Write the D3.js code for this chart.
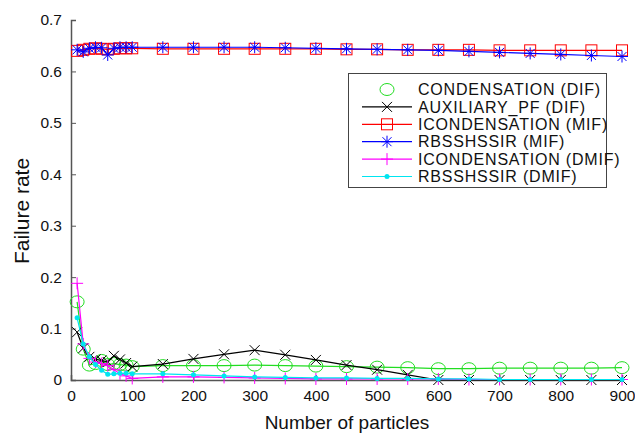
<!DOCTYPE html>
<html><head><meta charset="utf-8">
<script src="https://cdn.jsdelivr.net/npm/d3@7"></script>
<style>body{margin:0;background:#fff}svg{display:block;font-family:"Liberation Sans",Arial,sans-serif}</style>
</head><body><div id="chart"></div>
<script>
const particles = [10,20,30,40,50,60,70,80,90,100,150,200,250,300,350,400,450,500,550,600,650,700,750,800,850,900];
const condensationDIF = [0.152,0.060,0.029,0.032,0.038,0.030,0.032,0.030,0.029,0.026,0.028,0.028,0.028,0.029,0.028,0.027,0.026,0.025,0.024,0.022,0.022,0.023,0.023,0.023,0.023,0.024];
const auxiliaryDIF = [0.093,0.062,0.045,0.040,0.038,0.035,0.047,0.040,0.033,0.026,0.031,0.041,0.050,0.058,0.049,0.039,0.029,0.020,0.010,0,0,0,0,0,0,0];
const icondensationMIF = [0.640,0.642,0.644,0.645,0.644,0.643,0.644,0.645,0.645,0.645,0.644,0.644,0.644,0.644,0.644,0.644,0.643,0.643,0.642,0.642,0.642,0.641,0.641,0.641,0.641,0.641];
const rbsshssirMIF = [0.642,0.638,0.645,0.647,0.646,0.632,0.645,0.647,0.647,0.647,0.647,0.647,0.647,0.647,0.646,0.645,0.644,0.643,0.642,0.641,0.639,0.637,0.635,0.633,0.631,0.629];
const icondensationDMIF = [0.188,0.070,0.042,0.035,0.032,0.028,0.020,0.012,0.008,0.003,0.006,0.006,0.005,0.004,0.003,0.002,0.002,0.002,0.002,0.002,0.001,0.001,0.001,0.001,0.001,0.001];
const rbsshssirDMIF = [0.121,0.070,0.045,0.030,0.019,0.011,0.012,0.013,0.013,0.012,0.012,0.010,0.008,0.006,0.005,0.004,0.004,0.003,0.003,0.002,0.002,0.001,0.001,0.001,0.001,0.001];
const seriesNames = ["CONDENSATION (DIF)","AUXILIARY_PF (DIF)","ICONDENSATION (MIF)","RBSSHSSIR (MIF)","ICONDENSATION (DMIF)","RBSSHSSIR (DMIF)"];
const xTicks = [0,100,200,300,400,500,600,700,800,900];
const yTicks = [0,0.1,0.2,0.3,0.4,0.5,0.6,0.7];

const series = [
  {name: seriesNames[0], values: condensationDIF, color: "#22dd22", marker: "circle", legendLine: false},
  {name: seriesNames[1], values: auxiliaryDIF, color: "#000000", marker: "x", legendLine: true},
  {name: seriesNames[2], values: icondensationMIF, color: "#ff0000", marker: "square", legendLine: true},
  {name: seriesNames[3], values: rbsshssirMIF, color: "#0000ff", marker: "star", legendLine: true},
  {name: seriesNames[4], values: icondensationDMIF, color: "#ff00ff", marker: "plus", legendLine: true},
  {name: seriesNames[5], values: rbsshssirDMIF, color: "#00e5f0", marker: "dot", legendLine: true}
];

const W = 635, H = 434;
const svg = d3.select("#chart").append("svg").attr("width", W).attr("height", H);
const x = d3.scaleLinear().domain([0, 900]).range([71, 622]);
const y = d3.scaleLinear().domain([0, 0.7]).range([380, 20]);

function drawMarker(g, type, cx, cy, color) {
  if (type === "circle") {
    g.append("ellipse").attr("cx", cx).attr("cy", cy).attr("rx", 7).attr("ry", 6)
      .attr("fill", "none").attr("stroke", color).attr("stroke-width", 1);
  } else if (type === "square") {
    g.append("rect").attr("x", cx - 5.5).attr("y", cy - 5.5).attr("width", 11).attr("height", 11)
      .attr("fill", "none").attr("stroke", color).attr("stroke-width", 1);
  } else if (type === "x") {
    const s = 5;
    g.append("path").attr("d", `M${cx-s},${cy-s}L${cx+s},${cy+s}M${cx-s},${cy+s}L${cx+s},${cy-s}`)
      .attr("stroke", color).attr("stroke-width", 1).attr("fill", "none");
  } else if (type === "plus") {
    const s = 6;
    g.append("path").attr("d", `M${cx-s},${cy}L${cx+s},${cy}M${cx},${cy-s}L${cx},${cy+s}`)
      .attr("stroke", color).attr("stroke-width", 1).attr("fill", "none");
  } else if (type === "star") {
    const s = 6, d = 4.5;
    g.append("path").attr("d", `M${cx-s},${cy}L${cx+s},${cy}M${cx},${cy-s}L${cx},${cy+s}M${cx-d},${cy-d}L${cx+d},${cy+d}M${cx-d},${cy+d}L${cx+d},${cy-d}`)
      .attr("stroke", color).attr("stroke-width", 1).attr("fill", "none");
  } else if (type === "dot") {
    g.append("circle").attr("cx", cx).attr("cy", cy).attr("r", 2.5).attr("fill", color);
  }
}

// axes (ticks inward)
const axisColor = "#555";
const xAxis = svg.append("g").attr("transform", "translate(0,380)")
  .call(d3.axisBottom(x).tickValues(xTicks).tickSize(-5).tickPadding(10).tickFormat(d3.format("d")));
const yAxis = svg.append("g").attr("transform", "translate(71,0)")
  .call(d3.axisLeft(y).tickValues(yTicks).tickSize(-5).tickPadding(9).tickFormat(d => d === 0 ? "0" : d3.format(".1f")(d)));
[xAxis, yAxis].forEach(a => {
  a.select(".domain").attr("stroke", axisColor).attr("stroke-width", 1.5);
  a.selectAll(".tick line").attr("stroke", axisColor);
  a.selectAll("text").attr("fill", "#111").style("font-size", "15.5px").style("font-family", "Liberation Sans, Arial, sans-serif");
});

// lines & markers
const line = d3.line().x((d, i) => x(particles[i])).y(d => y(d));
series.forEach(s => {
  const g = svg.append("g");
  g.append("path").datum(s.values).attr("d", line).attr("fill", "none")
    .attr("stroke", s.color).attr("stroke-width", 1.2);
  s.values.forEach((v, i) => drawMarker(g, s.marker, x(particles[i]), y(v), s.color));
});

// axis titles
svg.append("text").attr("x", 347).attr("y", 429).attr("text-anchor", "middle")
  .style("font-size", "19px").attr("fill", "#111").text("Number of particles");
svg.append("text").attr("transform", "translate(29,211) rotate(-90)").attr("text-anchor", "middle")
  .style("font-size", "21px").attr("fill", "#111").text("Failure rate");

// legend
const lg = svg.append("g");
lg.append("rect").attr("x", 348.5).attr("y", 73.5).attr("width", 258).attr("height", 114)
  .attr("fill", "#fff").attr("stroke", "#444").attr("stroke-width", 1);
series.forEach((s, i) => {
  const cy = 89.5 + i * 17.4;
  if (s.legendLine) {
    lg.append("line").attr("x1", 362).attr("x2", 412).attr("y1", cy).attr("y2", cy)
      .attr("stroke", s.color).attr("stroke-width", 1.2);
  }
  drawMarker(lg, s.marker, 387, cy, s.color);
  lg.append("text").attr("x", 418).attr("y", cy).attr("dy", "0.35em")
    .style("font-size", "16px").style("letter-spacing", "0.8px").attr("fill", "#111").text(s.name);
});
</script>
</body></html>
